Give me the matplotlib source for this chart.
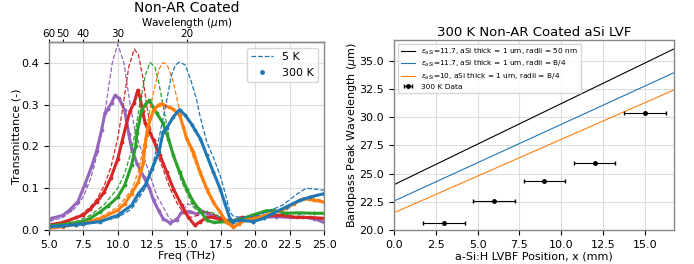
import numpy as np
import matplotlib.pyplot as plt
from matplotlib.lines import Line2D

# ---- Izquierda: transmitancia vs frecuencia (5 K discontinua, 300 K puntos) ----
f_purple_5k = [5.0, 6.0, 7.0, 7.5, 8.0, 8.5, 8.8, 9.15, 9.6, 10.0, 10.45, 10.9, 11.3, 12.1, 12.83, 13.7, 14.0, 14.5, 15.1, 15.9, 16.5, 17.2, 18.2, 19.0, 20.0, 21.0, 22.0, 23.0, 24.0, 25.0]
t_purple_5k = [0.02, 0.03, 0.055, 0.08, 0.12, 0.18, 0.23, 0.3, 0.4, 0.445, 0.4, 0.3, 0.23, 0.155, 0.083, 0.031, 0.02, 0.035, 0.063, 0.05, 0.04, 0.03, 0.02, 0.025, 0.028, 0.03, 0.03, 0.03, 0.028, 0.02]
f_purple_300k = [5.0, 5.2, 6.0, 6.5, 7.1, 7.6, 8.1, 8.47, 8.83, 9.07, 9.3, 9.55, 9.8, 10.1, 10.5, 10.8, 11.0, 11.4, 11.9, 12.3, 12.6, 13.0, 13.3, 13.8, 14.3, 14.65, 15.25, 15.75, 16.1, 16.5, 17.0, 17.5, 18.2, 18.7, 19.5, 20.5, 21.5, 22.5, 23.5, 24.3, 25.0]
t_purple_300k = [0.025, 0.028, 0.035, 0.048, 0.068, 0.108, 0.152, 0.19, 0.24, 0.28, 0.29, 0.305, 0.322, 0.315, 0.287, 0.23, 0.195, 0.159, 0.127, 0.1, 0.071, 0.045, 0.027, 0.017, 0.025, 0.043, 0.044, 0.038, 0.045, 0.04, 0.033, 0.028, 0.02, 0.025, 0.028, 0.03, 0.032, 0.03, 0.031, 0.027, 0.018]

f_red_5k = [5.0, 6.0, 7.0, 8.0, 8.5, 9.0, 9.5, 10.0, 10.4, 10.8, 11.2, 11.5, 11.8, 12.1, 12.4, 12.8, 13.3, 13.8, 14.3, 14.8, 15.3, 15.8, 16.3, 16.8, 17.5, 18.3, 19.0, 20.0, 21.0, 22.0, 23.0, 24.0, 25.0]
t_red_5k = [0.01, 0.015, 0.028, 0.055, 0.075, 0.105, 0.15, 0.22, 0.3, 0.39, 0.433, 0.42, 0.37, 0.3, 0.24, 0.19, 0.145, 0.1, 0.065, 0.04, 0.03, 0.035, 0.045, 0.04, 0.03, 0.02, 0.028, 0.03, 0.033, 0.033, 0.03, 0.03, 0.025]
f_red_300k = [5.0, 6.0, 7.0, 7.5, 8.0, 8.5, 9.0, 9.5, 10.0, 10.3, 10.6, 10.9, 11.2, 11.45, 11.6, 11.8, 12.0, 12.3, 12.6, 13.07, 13.56, 14.04, 14.65, 15.13, 15.6, 16.0, 16.5, 17.0, 17.4, 18.3, 19.0, 20.0, 21.0, 22.0, 23.0, 24.0, 25.0]
t_red_300k = [0.012, 0.018, 0.03, 0.036, 0.05, 0.068, 0.09, 0.125, 0.17, 0.21, 0.25, 0.285, 0.305, 0.334, 0.32, 0.285, 0.255, 0.235, 0.215, 0.179, 0.139, 0.099, 0.059, 0.031, 0.011, 0.02, 0.031, 0.03, 0.025, 0.02, 0.03, 0.03, 0.035, 0.035, 0.03, 0.03, 0.028]

f_green_5k = [5.0, 6.0, 7.0, 8.0, 9.0, 10.0, 10.5, 11.0, 11.3, 11.6, 12.0, 12.35, 12.7, 13.0, 13.4, 13.8, 14.2, 14.6, 15.0, 15.5, 16.0, 16.5, 17.0, 17.5, 18.0, 19.0, 20.0, 21.0, 22.0, 23.0, 24.0, 25.0]
t_green_5k = [0.01, 0.014, 0.02, 0.035, 0.06, 0.1, 0.135, 0.19, 0.24, 0.3, 0.37, 0.401, 0.39, 0.35, 0.28, 0.21, 0.16, 0.12, 0.09, 0.055, 0.04, 0.045, 0.04, 0.03, 0.022, 0.027, 0.036, 0.045, 0.042, 0.042, 0.04, 0.04]
f_green_300k = [5.0, 6.0, 7.0, 7.5, 8.0, 8.7, 9.3, 10.0, 10.5, 11.0, 11.3, 11.4, 11.74, 12.0, 12.3, 12.6, 12.83, 13.3, 13.68, 14.04, 14.5, 15.0, 15.5, 15.9, 16.5, 17.0, 17.9, 18.85, 19.85, 20.8, 21.3, 22.2, 23.2, 24.3, 25.0]
t_green_300k = [0.01, 0.013, 0.018, 0.021, 0.028, 0.043, 0.058, 0.079, 0.107, 0.155, 0.2, 0.232, 0.287, 0.3, 0.31, 0.292, 0.28, 0.255, 0.219, 0.179, 0.139, 0.099, 0.067, 0.05, 0.023, 0.018, 0.02, 0.025, 0.036, 0.046, 0.047, 0.04, 0.041, 0.04, 0.04]

f_orange_5k = [5.0, 6.0, 7.0, 8.0, 9.0, 10.0, 11.0, 11.5, 12.0, 12.4, 12.75, 13.0, 13.3, 13.6, 14.0, 14.4, 14.8, 15.2, 15.6, 16.0, 16.5, 17.0, 17.5, 18.0, 18.4, 19.0, 20.0, 21.0, 22.0, 23.0, 24.0, 25.0]
t_orange_5k = [0.005, 0.008, 0.013, 0.022, 0.035, 0.055, 0.095, 0.14, 0.22, 0.3, 0.35, 0.385, 0.401, 0.395, 0.36, 0.3, 0.24, 0.2, 0.165, 0.13, 0.09, 0.06, 0.038, 0.02, 0.012, 0.02, 0.03, 0.04, 0.05, 0.07, 0.077, 0.07]
f_orange_300k = [5.0, 6.0, 7.0, 7.5, 8.7, 10.0, 10.5, 11.0, 11.5, 11.85, 11.98, 12.1, 12.2, 12.6, 13.0, 13.2, 13.7, 14.0, 14.5, 14.77, 15.0, 15.5, 15.98, 16.47, 16.95, 17.44, 17.9, 18.4, 18.85, 19.3, 20.35, 21.3, 22.25, 22.8, 23.5, 24.3, 25.0]
t_orange_300k = [0.004, 0.008, 0.013, 0.015, 0.027, 0.047, 0.063, 0.087, 0.115, 0.16, 0.2, 0.228, 0.247, 0.287, 0.3, 0.302, 0.294, 0.29, 0.275, 0.247, 0.219, 0.187, 0.139, 0.099, 0.067, 0.043, 0.019, 0.007, 0.015, 0.024, 0.031, 0.04, 0.052, 0.063, 0.075, 0.071, 0.067]

f_blue_5k = [5.0, 7.0, 9.0, 10.0, 11.0, 12.0, 12.5, 13.0, 13.5, 13.9, 14.2, 14.5, 14.9, 15.3, 15.74, 16.0, 16.47, 17.0, 17.44, 17.8, 18.16, 18.4, 19.0, 20.0, 21.0, 22.0, 23.0, 23.7, 24.3, 25.0]
t_blue_5k = [0.006, 0.012, 0.022, 0.03, 0.05, 0.1, 0.15, 0.22, 0.3, 0.37, 0.395, 0.402, 0.395, 0.36, 0.311, 0.27, 0.211, 0.17, 0.131, 0.09, 0.043, 0.033, 0.03, 0.033, 0.045, 0.06, 0.085, 0.1, 0.098, 0.095]
f_blue_300k = [5.0, 6.0, 7.0, 7.5, 8.7, 10.0, 11.0, 11.5, 12.0, 12.5, 13.0, 13.3, 13.56, 14.04, 14.5, 14.9, 15.4, 15.6, 16.0, 16.47, 16.95, 17.44, 17.8, 18.16, 18.4, 18.85, 19.85, 20.6, 21.3, 22.3, 23.25, 24.0, 25.0]
t_blue_300k = [0.008, 0.01, 0.013, 0.015, 0.02, 0.035, 0.059, 0.087, 0.107, 0.147, 0.187, 0.235, 0.244, 0.271, 0.288, 0.275, 0.252, 0.24, 0.219, 0.179, 0.139, 0.099, 0.063, 0.027, 0.02, 0.024, 0.02, 0.028, 0.04, 0.056, 0.071, 0.079, 0.087]

wl_ticks = [60, 50, 40, 30, 20]

# ---- Derecha: longitud de onda del pico vs posicion ----
x_modelo = [0.0, 16.75]
lam_negro = [24.02, 36.07]
lam_azul = [22.57, 33.96]
lam_naranja = [21.53, 32.43]
x_datos = [3, 6, 9, 12, 15]
lam_datos = [20.62, 22.6, 24.32, 25.95, 30.36]
x_err = [1.25, 1.25, 1.25, 1.25, 1.25]

plt.rcParams['font.size'] = 8
plt.rcParams['axes.edgecolor'] = '#888888'
plt.rcParams['axes.linewidth'] = 1.0

fig = plt.figure(figsize=(6.94, 2.64), dpi=100)
ax1 = fig.add_axes([0.0706, 0.1288, 0.3963, 0.7121])
ax2 = fig.add_axes([0.5677, 0.1288, 0.4035, 0.7197])

curvas = [
    ("C4", f_purple_5k, t_purple_5k, f_purple_300k, t_purple_300k),
    ("C3", f_red_5k, t_red_5k, f_red_300k, t_red_300k),
    ("C2", f_green_5k, t_green_5k, f_green_300k, t_green_300k),
    ("C1", f_orange_5k, t_orange_5k, f_orange_300k, t_orange_300k),
    ("C0", f_blue_5k, t_blue_5k, f_blue_300k, t_blue_300k),
]
for color, f5, t5, f300, t300 in curvas:
    ax1.plot(f5, t5, color=color, linestyle="--", linewidth=0.9)
    ax1.plot(f300, t300, color=color, linestyle="-", linewidth=2.2,
             marker=".", markersize=3.5)

ax1.set_xlim(5, 25)
ax1.set_ylim(0, 0.45)
ax1.set_xticks(np.arange(5, 25.1, 2.5))
ax1.set_yticks([0.0, 0.1, 0.2, 0.3, 0.4])
ax1.set_xlabel("Freq (THz)", labelpad=1)
ax1.set_ylabel("Transmittance (-)", labelpad=0)
ax1.grid(color="#dddddd", linewidth=0.8)
ax1.set_axisbelow(True)

sec = ax1.secondary_xaxis("top", functions=(lambda f: 300.0 / np.maximum(f, 1e-6),
                                             lambda w: 300.0 / np.maximum(w, 1e-6)))
sec.set_xticks(wl_ticks)
sec.tick_params(length=2, pad=0.5, labelsize=7.5)
sec.set_xlabel(r"Wavelength ($\mu$m)", labelpad=2, fontsize=7.5)
fig.text(187 / 694, 1 - 8 / 264, "Non-AR Coated", fontsize=10,
         ha="center", va="center")

handles = [Line2D([], [], color="C0", linestyle="--", linewidth=0.9),
           Line2D([], [], color="C0", linestyle="", marker=".", markersize=5)]
ax1.legend(handles, ["5 K", "300 K"], loc="upper right", fontsize=8)

ax2.plot(x_modelo, lam_negro, color="black", linewidth=0.8,
         label=r"$\epsilon_{aSi}$=11.7, aSi thick = 1 um, radii = 50 nm")
ax2.plot(x_modelo, lam_azul, color="C0", linewidth=0.8,
         label=r"$\epsilon_{aSi}$=11.7, aSi thick = 1 um, radii = B/4")
ax2.plot(x_modelo, lam_naranja, color="C1", linewidth=0.8,
         label=r"$\epsilon_{aSi}$=10, aSi thick = 1 um, radii = B/4")
ax2.errorbar(x_datos, lam_datos, xerr=x_err, fmt="o", color="black",
             markersize=2.5, elinewidth=0.8, capsize=1.5, label="300 K Data")
ax2.set_xlim(0, 16.75)
ax2.set_ylim(20, 36.86)
ax2.set_xticks(np.arange(0, 15.1, 2.5))
ax2.set_yticks(np.arange(20, 35.1, 2.5))
ax2.set_xlabel("a-Si:H LVBF Position, x (mm)", labelpad=1)
ax2.set_ylabel(r"Bandpass Peak Wavelength ($\mu$m)", labelpad=0)
ax2.set_title("300 K Non-AR Coated aSi LVF", fontsize=9.5, pad=3)
ax2.grid(color="#dddddd", linewidth=0.8)
ax2.set_axisbelow(True)
ax2.legend(loc="upper left", fontsize=5.3, labelspacing=0.3)

fig.savefig("out.png", dpi=100)
